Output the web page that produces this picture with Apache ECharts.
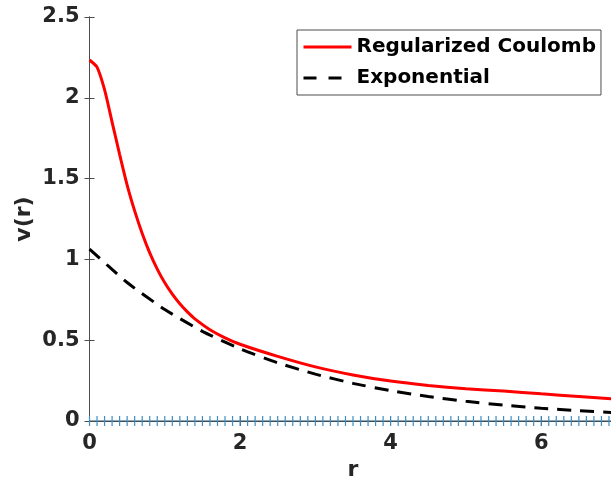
<!DOCTYPE html>
<html>
<head>
<meta charset="utf-8">
<script src="https://cdn.jsdelivr.net/npm/echarts@6/dist/echarts.min.js"></script>
<style>
  html, body { margin: 0; background: #fff; }
  #chart { width: 611px; height: 481px; }
</style>
</head>
<body>
<div id="chart"></div>
<script>
// values
const coulombR = [0, 0.1, 0.2, 0.3, 0.4, 0.5, 0.6, 0.7, 0.8, 0.9, 1.0, 1.1, 1.2, 1.3, 1.4, 1.6, 1.8, 2.0, 2.5, 3.0, 3.5, 4.0, 4.5, 5.0, 5.5, 6.0, 6.5, 7.0]
const coulombV = [2.234, 2.19, 2.05, 1.85, 1.65, 1.46, 1.30, 1.16, 1.04, 0.94, 0.855, 0.785, 0.725, 0.675, 0.632, 0.565, 0.515, 0.475, 0.4, 0.335, 0.285, 0.247, 0.22, 0.2, 0.185, 0.168, 0.152, 0.135]

const expR = [0, 0.5, 1.0, 1.5, 2.0, 2.5, 3.0, 3.5, 4.0, 4.5, 5.0, 5.5, 6.0, 6.5, 7.0]
const expV = [1.064, 0.857, 0.69, 0.555, 0.447, 0.36, 0.29, 0.233, 0.188, 0.151, 0.122, 0.098, 0.079, 0.064, 0.051]

// grid points marked along v = 0
const markerR = [0, 0.1, 0.2, 0.3, 0.4, 0.5, 0.6, 0.7, 0.8, 0.9,
  1.0, 1.1, 1.2, 1.3, 1.4, 1.5, 1.6, 1.7, 1.8, 1.9,
  2.0, 2.1, 2.2, 2.3, 2.4, 2.5, 2.6, 2.7, 2.8, 2.9,
  3.0, 3.1, 3.2, 3.3, 3.4, 3.5, 3.6, 3.7, 3.8, 3.9,
  4.0, 4.1, 4.2, 4.3, 4.4, 4.5, 4.6, 4.7, 4.8, 4.9,
  5.0, 5.1, 5.2, 5.3, 5.4, 5.5, 5.6, 5.7, 5.8, 5.9,
  6.0, 6.1, 6.2, 6.3, 6.4, 6.5, 6.6, 6.7, 6.8, 6.9, 7.0]

const seriesNames = ['Regularized Coulomb', 'Exponential']

const FONT = 'DejaVu Sans'
const INK = '#262626'
const FRAME = '#4d4d4d'

const zip = (xs, ys) => xs.map((x, i) => [x, ys[i]])

const chart = echarts.init(document.getElementById('chart'))

const axisLabel = { color: INK, fontFamily: FONT, fontWeight: 'bold', fontSize: 21 }
const tickIn = { show: true, inside: true, length: 5, lineStyle: { color: FRAME } }
const nameStyle = { color: INK, fontFamily: FONT, fontWeight: 'bold', fontSize: 22 }

chart.setOption({
  animation: false,
  backgroundColor: '#fff',
  grid: { left: 89.5, right: -5.5, top: 17, bottom: 60, outerBoundsMode: 'none', containLabel: false },
  legend: {
    data: [
      { name: seriesNames[0], lineStyle: { width: 3 } },
      { name: seriesNames[1], lineStyle: { width: 3, type: [13, 12] } },
    ],
    orient: 'vertical',
    left: 297,
    top: 30,
    padding: [7, 5, 7, 5],
    itemWidth: 48,
    itemHeight: 14,
    itemGap: 11,
    borderColor: FRAME,
    borderWidth: 1,
    itemStyle: { opacity: 0 },
    textStyle: { color: '#000', fontFamily: FONT, fontWeight: 'bold', fontSize: 20 },
  },
  xAxis: [
    {
      type: 'value',
      min: 0, max: 7, interval: 2,
      name: 'r',
      nameLocation: 'middle',
      nameGap: 38,
      nameMoveOverlap: false,
      nameTextStyle: nameStyle,
      axisLine: { show: true, onZero: false, lineStyle: { color: INK } },
      axisTick: tickIn,
      axisLabel: { ...axisLabel, margin: 12, showMaxLabel: false },
      splitLine: { show: false },
    },
    {
      type: 'value', position: 'top',
      min: 0, max: 7, interval: 2,
      axisLine: { show: true, lineStyle: { color: FRAME } },
      axisTick: tickIn,
      axisLabel: { show: false },
      splitLine: { show: false },
    },
  ],
  yAxis: [
    {
      type: 'value',
      min: 0, max: 2.5, interval: 0.5,
      name: 'v(r)',
      nameLocation: 'middle',
      nameGap: 54,
      nameMoveOverlap: false,
      nameTextStyle: nameStyle,
      axisLine: { show: true, lineStyle: { color: FRAME } },
      axisTick: tickIn,
      axisLabel: { ...axisLabel, margin: 10 },
      splitLine: { show: false },
    },
    {
      type: 'value', position: 'right',
      min: 0, max: 2.5, interval: 0.5,
      axisLine: { show: true, lineStyle: { color: FRAME } },
      axisTick: tickIn,
      axisLabel: { show: false },
      splitLine: { show: false },
    },
  ],
  series: [
    {
      name: 'zero',
      type: 'line',
      data: markerR.map(r => [r, 0]),
      symbol: 'rect',
      symbolSize: [1.2, 10],
      itemStyle: { color: '#3d8fc4' },
      lineStyle: { color: '#24506e', width: 1 },
      z: 3,
    },
    {
      name: seriesNames[0],
      type: 'line',
      data: zip(coulombR, coulombV),
      smooth: 0.2,
      symbol: 'none',
      lineStyle: { color: '#ff0000', width: 3 },
      itemStyle: { color: '#ff0000' },
    },
    {
      name: seriesNames[1],
      type: 'line',
      data: zip(expR, expV),
      smooth: 0.2,
      symbol: 'none',
      lineStyle: { color: '#000', width: 3, type: [14, 9] },
      itemStyle: { color: '#000' },
    },
  ],
})
</script>
</body>
</html>
